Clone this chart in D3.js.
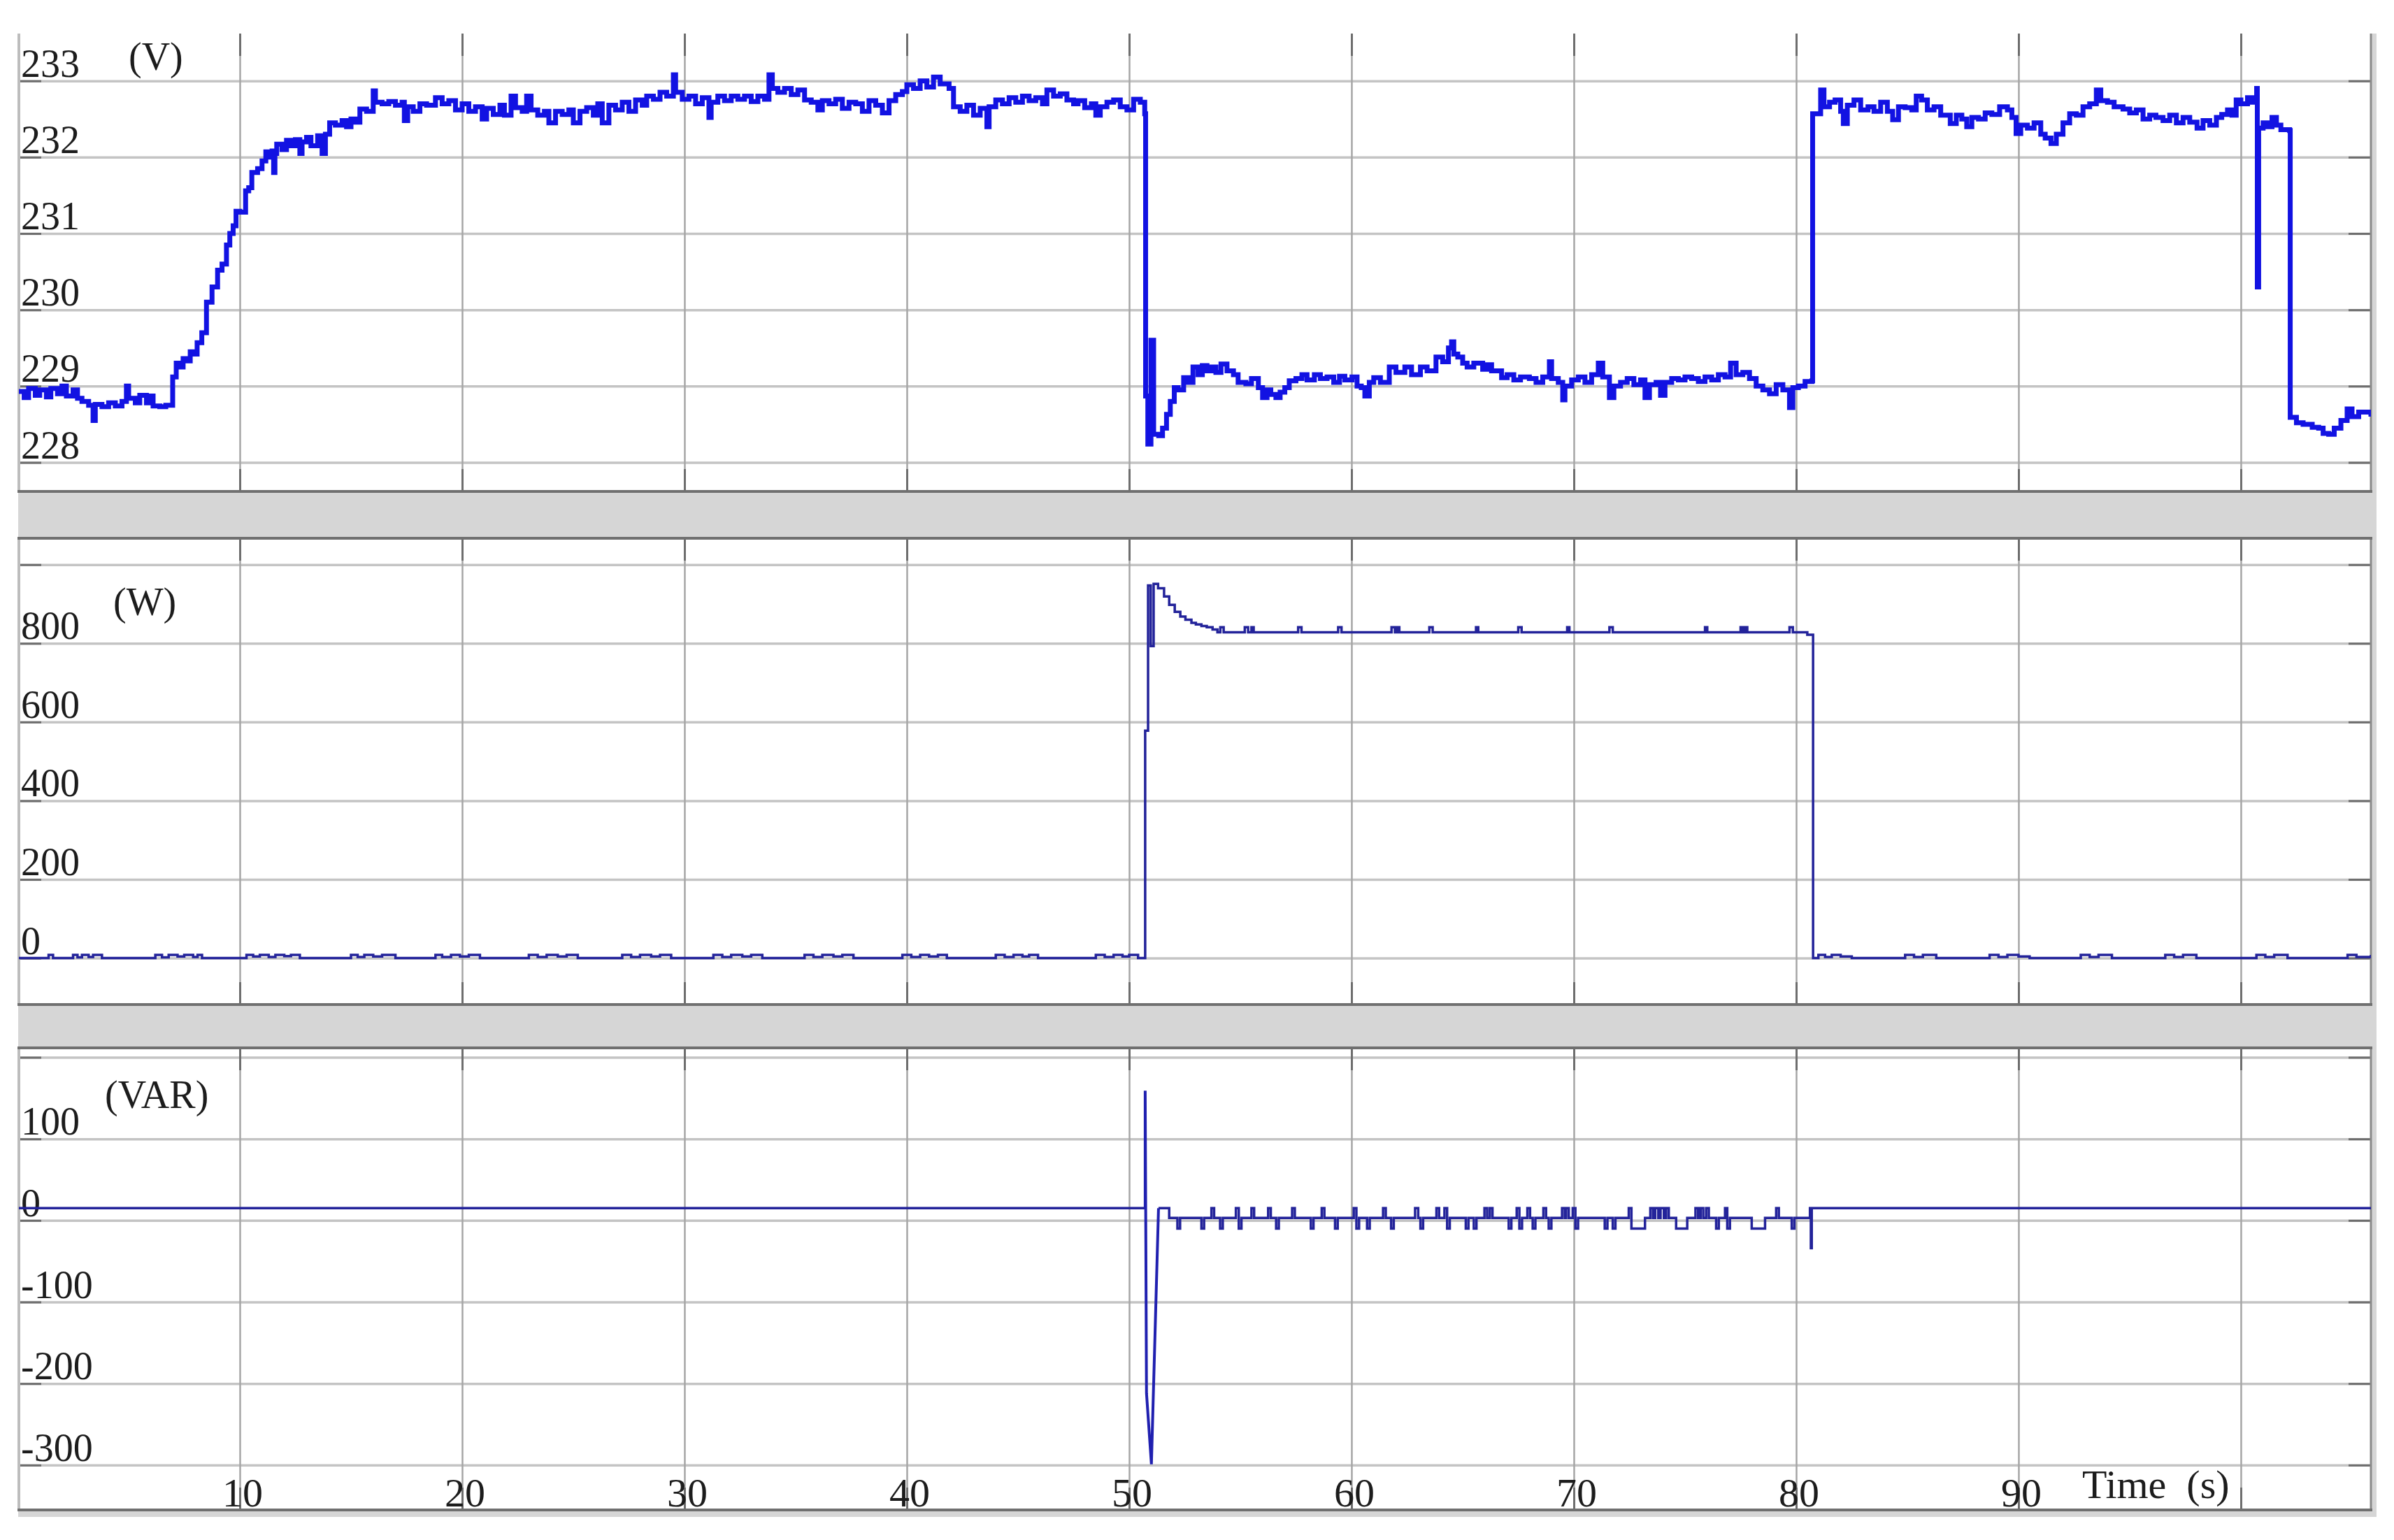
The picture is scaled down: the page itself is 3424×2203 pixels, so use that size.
<!DOCTYPE html>
<html>
<head>
<meta charset="utf-8">
<script src="https://cdn.jsdelivr.net/npm/d3@7"></script>
<style>
body { margin: 0; background: #ffffff; }
svg { display: block; }
text { font-family: "Liberation Serif", "Times New Roman", serif; fill: #1c1c1c; }
</style>
</head>
<body>
<svg id="chart"></svg>
<script>
// ---- data ----
let timeTicks = [10, 20, 30, 40, 50, 60, 70, 80, 90];
let timeGrid = [10, 20, 30, 40, 50, 60, 70, 80, 90, 100];

let voltTicks = [228, 229, 230, 231, 232, 233];
let powerTicks = [0, 200, 400, 600, 800];
let powerGrid = [0, 200, 400, 600, 800, 1000];
let reactiveTicks = [-300, -200, -100, 0, 100];
let reactiveGrid = [-300, -200, -100, 0, 100, 200];

// grid voltage (V), [time s, value]
let voltage = [
  [0,228.93],[0.3,228.85],[0.5,228.97],[0.8,228.88],[1.0,228.95],[1.3,228.86],[1.5,228.97],[1.8,228.9],
  [2.0,229.0],[2.2,228.87],[2.5,228.95],[2.7,228.84],[2.9,228.8],[3.2,228.75],[3.4,228.55],[3.5,228.76],
  [3.8,228.73],[4.1,228.78],[4.4,228.74],[4.7,228.8],[4.9,229.0],[5.0,228.84],[5.3,228.78],[5.5,228.88],
  [5.8,228.78],[6.0,228.87],[6.1,228.74],[6.4,228.73],[6.67,228.75],[6.98,229.12],[7.14,229.3],[7.3,229.25],
  [7.45,229.36],[7.6,229.33],[7.77,229.45],[7.9,229.42],[8.08,229.57],[8.29,229.7],[8.5,230.1],[8.75,230.3],
  [9.0,230.52],[9.2,230.6],[9.4,230.85],[9.55,231.0],[9.7,231.1],[9.83,231.29],[10.0,231.28],[10.26,231.56],
  [10.4,231.6],[10.54,231.8],[10.8,231.85],[11.0,231.95],[11.17,232.07],[11.3,232.0],[11.45,232.08],[11.52,231.8],
  [11.58,232.05],[11.66,232.17],[11.9,232.1],[12.1,232.22],[12.3,232.15],[12.5,232.23],[12.7,232.05],[12.8,232.2],
  [13.0,232.26],[13.2,232.15],[13.5,232.28],[13.7,232.05],[13.85,232.3],[14.04,232.45],[14.3,232.42],[14.6,232.48],
  [14.8,232.4],[15.0,232.5],[15.2,232.46],[15.4,232.63],[15.7,232.6],[16.0,232.87],[16.1,232.72],[16.4,232.7],
  [16.7,232.73],[17.0,232.68],[17.3,232.72],[17.4,232.48],[17.55,232.66],[17.8,232.6],[18.1,232.7],[18.4,232.68],
  [18.8,232.78],[19.1,232.7],[19.4,232.74],[19.7,232.62],[20.0,232.7],[20.3,232.6],[20.6,232.66],[20.9,232.5],
  [21.1,232.64],[21.4,232.56],[21.7,232.68],[21.9,232.55],[22.2,232.8],[22.4,232.65],[22.7,232.6],[22.9,232.8],
  [23.1,232.62],[23.4,232.55],[23.7,232.6],[23.9,232.45],[24.2,232.6],[24.5,232.56],[24.8,232.62],[25.0,232.45],
  [25.3,232.6],[25.6,232.65],[25.9,232.55],[26.1,232.7],[26.3,232.45],[26.6,232.68],[26.9,232.62],[27.2,232.72],
  [27.5,232.6],[27.8,232.75],[28.1,232.68],[28.3,232.8],[28.6,232.76],[28.9,232.85],[29.2,232.8],[29.5,233.08],
  [29.6,232.85],[29.9,232.76],[30.2,232.8],[30.5,232.7],[30.8,232.78],[31.1,232.52],[31.2,232.72],[31.5,232.8],
  [31.8,232.74],[32.1,232.8],[32.4,232.76],[32.7,232.8],[33.0,232.73],[33.3,232.8],[33.6,232.76],[33.8,233.08],
  [33.95,232.9],[34.2,232.85],[34.5,232.9],[34.8,232.82],[35.1,232.88],[35.4,232.75],[35.7,232.72],[36.0,232.62],
  [36.2,232.74],[36.5,232.7],[36.8,232.76],[37.1,232.64],[37.4,232.72],[37.7,232.7],[38.0,232.6],[38.3,232.74],
  [38.6,232.68],[38.9,232.58],[39.2,232.74],[39.5,232.82],[39.8,232.86],[40.0,232.95],[40.3,232.9],[40.6,233.0],
  [40.9,232.92],[41.2,233.05],[41.5,232.96],[41.9,232.9],[42.1,232.66],[42.4,232.6],[42.7,232.68],[43.0,232.55],
  [43.3,232.64],[43.6,232.4],[43.7,232.66],[44.0,232.75],[44.3,232.7],[44.6,232.78],[44.9,232.72],[45.2,232.8],
  [45.5,232.74],[45.8,232.78],[46.1,232.7],[46.3,232.88],[46.6,232.8],[46.9,232.83],[47.2,232.75],[47.5,232.7],
  [47.7,232.74],[48.0,232.65],[48.3,232.7],[48.5,232.55],[48.7,232.66],[49.0,232.72],[49.3,232.75],[49.6,232.66],
  [49.9,232.62],[50.2,232.76],[50.5,232.72],[50.7,232.57],[50.74,228.87],[50.84,228.24],[50.98,229.6],[51.1,228.37],
  [51.33,228.35],[51.5,228.45],[51.68,228.63],[51.85,228.8],[52.03,228.98],[52.2,228.95],[52.45,229.11],[52.65,229.05],
  [52.87,229.25],[53.1,229.15],[53.29,229.27],[53.5,229.2],[53.71,229.25],[53.9,229.18],[54.13,229.29],[54.4,229.2],
  [54.69,229.15],[54.9,229.05],[55.25,229.03],[55.5,229.1],[55.81,228.98],[56.0,228.85],[56.2,228.95],[56.37,228.89],
  [56.6,228.85],[56.79,228.92],[57.0,228.98],[57.2,229.07],[57.5,229.1],[57.77,229.15],[58.0,229.08],[58.33,229.15],
  [58.6,229.1],[58.9,229.12],[59.2,229.05],[59.46,229.13],[59.7,229.08],[60.02,229.12],[60.25,229.0],[60.44,228.98],
  [60.6,228.87],[60.8,229.05],[61.0,229.11],[61.3,229.05],[61.7,229.25],[62.0,229.18],[62.4,229.25],[62.7,229.15],
  [63.1,229.25],[63.4,229.2],[63.8,229.38],[64.1,229.32],[64.36,229.5],[64.5,229.58],[64.6,229.42],[64.78,229.38],
  [65.0,229.3],[65.2,229.25],[65.5,229.3],[65.9,229.22],[66.1,229.28],[66.3,229.2],[66.75,229.11],[67.0,229.15],
  [67.3,229.08],[67.6,229.12],[68.0,229.1],[68.3,229.05],[68.6,229.12],[68.9,229.32],[69.0,229.1],[69.3,229.05],
  [69.5,228.82],[69.6,229.0],[69.9,229.08],[70.2,229.12],[70.5,229.05],[70.8,229.15],[71.1,229.3],[71.3,229.12],
  [71.6,228.85],[71.8,229.0],[72.1,229.05],[72.4,229.1],[72.7,229.02],[73.0,229.08],[73.2,228.85],[73.4,229.02],
  [73.7,229.05],[73.9,228.88],[74.1,229.05],[74.4,229.1],[74.7,229.08],[75.0,229.12],[75.3,229.1],[75.6,229.06],
  [75.9,229.12],[76.2,229.08],[76.5,229.15],[76.8,229.12],[77.05,229.3],[77.3,229.15],[77.6,229.18],[77.9,229.1],
  [78.2,229.0],[78.5,228.95],[78.8,228.9],[79.1,229.02],[79.4,228.95],[79.7,228.72],[79.85,228.98],[80.1,229.0],
  [80.4,229.06],[80.71,229.07],[80.74,232.57],[81.1,232.88],[81.25,232.66],[81.5,232.72],[81.75,232.75],[82.0,232.6],
  [82.12,232.44],[82.3,232.68],[82.6,232.75],[82.9,232.62],[83.23,232.66],[83.5,232.6],[83.8,232.72],[84.1,232.6],
  [84.34,232.49],[84.6,232.66],[84.9,232.65],[85.2,232.62],[85.4,232.8],[85.64,232.75],[85.9,232.62],[86.2,232.66],
  [86.5,232.55],[86.93,232.44],[87.2,232.55],[87.45,232.5],[87.67,232.4],[87.9,232.52],[88.2,232.5],[88.5,232.58],
  [88.8,232.56],[89.15,232.66],[89.5,232.62],[89.7,232.52],[89.89,232.31],[90.1,232.42],[90.4,232.38],[90.7,232.45],
  [91.0,232.3],[91.2,232.25],[91.46,232.18],[91.7,232.3],[92.0,232.45],[92.3,232.57],[92.6,232.55],[92.9,232.66],
  [93.2,232.7],[93.5,232.88],[93.7,232.74],[94.0,232.72],[94.3,232.66],[94.7,232.63],[95.0,232.58],[95.3,232.62],
  [95.6,232.5],[95.9,232.55],[96.18,232.52],[96.5,232.48],[96.8,232.55],[97.1,232.45],[97.4,232.52],[97.7,232.46],
  [98.03,232.38],[98.3,232.48],[98.6,232.42],[98.9,232.52],[99.14,232.56],[99.4,232.62],[99.6,232.55],[99.79,232.75],
  [100.0,232.7],[100.3,232.78],[100.5,232.72],[100.71,232.9],[100.74,230.3],[100.8,232.38],[101.0,232.45],[101.2,232.4],
  [101.4,232.52],[101.6,232.42],[101.8,232.36],[102.19,232.35],[102.22,228.59],[102.5,228.52],[102.8,228.5],[103.21,228.46],
  [103.5,228.45],[103.7,228.38],[103.95,228.37],[104.2,228.45],[104.5,228.55],[104.78,228.7],[105.0,228.6],[105.3,228.66],
  [105.85,228.6]
];

// active power (W)
let activePower = [
  [0,0],[1.4,8],[1.6,0],[2.5,8],[2.7,2],[2.9,8],[3.2,3],[3.4,8],[3.8,0],
  [6.2,8],[6.5,2],[6.8,8],[7.2,4],[7.5,8],[7.9,3],[8.1,8],[8.3,0],
  [10.3,8],[10.6,4],[10.9,8],[11.3,3],[11.6,8],[12.0,5],[12.3,8],[12.7,0],
  [15.0,8],[15.3,3],[15.6,8],[16.0,4],[16.4,8],[17.0,0],
  [18.8,8],[19.1,3],[19.5,8],[19.9,4],[20.3,8],[20.8,0],
  [23.0,8],[23.4,3],[23.8,8],[24.3,4],[24.7,8],[25.2,0],
  [27.2,8],[27.6,3],[28.0,8],[28.5,4],[28.9,8],[29.4,0],
  [31.3,8],[31.7,3],[32.1,8],[32.6,4],[33.0,8],[33.5,0],
  [35.4,8],[35.8,3],[36.2,8],[36.7,4],[37.1,8],[37.6,0],
  [39.8,8],[40.2,3],[40.6,8],[41.0,4],[41.4,8],[41.8,0],
  [44.0,8],[44.4,3],[44.8,8],[45.2,4],[45.5,8],[45.9,0],
  [48.5,8],[48.9,3],[49.3,8],[49.7,4],[50.0,8],[50.4,0],
  [50.72,578],[50.85,947],[50.97,793],[51.1,951],[51.3,940],[51.57,919],[51.8,898],[52.05,880],
  [52.3,868],[52.53,860],[52.8,852],[53.0,848],[53.25,844],[53.49,841],[53.75,835],[53.97,828],
  [54.1,841],[54.25,828],[55.2,841],[55.35,828],[55.5,841],[55.6,828],[57.6,841],[57.75,828],
  [59.4,841],[59.55,828],[61.8,841],[61.95,828],[62.05,841],[62.15,828],[63.5,841],[63.65,828],
  [65.6,841],[65.7,828],[67.5,841],[67.65,828],[69.7,841],[69.8,828],[71.6,841],[71.75,828],
  [75.9,841],[76.0,828],[77.5,841],[77.6,828],[77.7,841],[77.8,828],[79.7,841],[79.85,828],
  [80.5,822],[80.76,0],
  [81.0,8],[81.3,3],[81.6,8],[82.0,4],[82.5,0],[84.9,8],[85.3,3],[85.7,8],[86.3,0],
  [88.7,8],[89.1,3],[89.5,8],[90.0,4],[90.5,0],[92.8,8],[93.2,3],[93.6,8],[94.2,0],
  [96.6,8],[97.0,3],[97.4,8],[98.0,0],[100.7,8],[101.1,3],[101.5,8],[102.1,0],
  [104.8,8],[105.2,3],[105.85,8]
];

// reactive power (VAR); null marks the switching transient drawn below
let reactivePower = [
  [0,15],[50.72,15],[50.72,null],
  [51.32,15],[51.8,3],[52.17,-10],[52.29,3],[53.25,-10],[53.37,3],[53.7,15],[53.82,3],[54.09,-10],[54.21,3],
  [54.8,15],[54.93,-10],[55.05,3],[55.5,15],[55.62,3],[56.25,15],[56.37,3],[56.61,-10],[56.73,3],[57.33,15],
  [57.45,3],[58.17,-10],[58.29,3],[58.66,15],[58.78,3],[59.26,-10],[59.38,3],[60.1,15],[60.22,-10],[60.34,3],
  [60.7,-10],[60.82,3],[61.42,15],[61.54,3],[61.78,-10],[61.9,3],[62.86,15],[63.0,3],[63.1,-10],[63.22,3],
  [63.82,15],[63.94,3],[64.18,15],[64.3,-10],[64.42,3],[65.14,-10],[65.26,3],[65.5,-10],[65.62,3],[65.98,15],
  [66.1,3],[66.22,15],[66.34,3],[67.07,-10],[67.19,3],[67.43,15],[67.55,-10],[67.67,3],[67.91,15],[68.03,3],
  [68.15,-10],[68.27,3],[68.63,15],[68.75,3],[68.87,-10],[68.99,3],[69.47,15],[69.59,3],[69.65,15],[69.77,3],
  [69.95,15],[70.07,-10],[70.19,3],[71.39,-10],[71.51,3],[71.75,-10],[71.87,3],[72.47,15],[72.59,-10],[73.2,3],
  [73.44,15],[73.56,3],[73.66,15],[73.8,3],[73.9,15],[74.05,3],[74.15,15],[74.27,3],[74.6,-10],[75.1,3],
  [75.47,15],[75.59,3],[75.7,15],[75.82,3],[75.95,15],[76.07,3],[76.4,-10],[76.52,3],[76.8,15],[76.9,-10],
  [77.02,3],[78.0,-10],[78.6,3],[79.1,15],[79.22,3],[79.8,-10],[79.92,3],[80.62,15],[80.66,-34],[80.7,15],
  [105.85,15]
];
let reactiveSpike = [[50.72,15],[50.72,159],[50.78,-212],[51.0,-299],[51.32,15]];

// ---- layout ----
let width = 3424;
let height = 2203;
let plotLeft = 27;
let plotRight = 3391;

let svg = d3.select("#chart")
    .attr("width", width)
    .attr("height", height);

let x = d3.scaleLinear().domain([0, 105.85]).range([25, plotRight]);

let panels = [
    {name: "volt", top: 48, bottom: 703, domain: [227.62, 233.62], grid: voltTicks, ticks: voltTicks,
     unit: "(V)", unitX: 184, unitY: 100, topBorder: false},
    {name: "power", top: 770, bottom: 1437, domain: [-118, 1067], grid: powerGrid, ticks: powerTicks,
     unit: "(W)", unitX: 162, unitY: 880, topBorder: true},
    {name: "reactive", top: 1499, bottom: 2160, domain: [-355, 211.6], grid: reactiveGrid, ticks: reactiveTicks,
     unit: "(VAR)", unitX: 150, unitY: 1585, topBorder: true}
];
panels.forEach(p => {
    p.y = d3.scaleLinear().domain(p.domain).range([p.bottom, p.top]);
});

// grey scope frame behind the panels
svg.append("rect")
    .attr("x", 26).attr("y", 48)
    .attr("width", 3399 - 26).attr("height", 2170 - 48)
    .attr("fill", "#d6d6d6");

let defs = svg.append("defs");

panels.forEach(function(p) {
    let g = svg.append("g").attr("class", "panel-" + p.name);
    let h = p.bottom - p.top;

    g.append("rect")
        .attr("x", plotLeft).attr("y", p.top)
        .attr("width", plotRight - plotLeft).attr("height", h)
        .attr("fill", "#ffffff");

    // horizontal grid
    g.append("g")
        .attr("transform", `translate(${plotLeft},0)`)
        .call(d3.axisRight(p.y).tickValues(p.grid).tickSize(plotRight - plotLeft).tickFormat(""))
        .call(a => a.select(".domain").remove())
        .selectAll("line").attr("stroke", "#c4c4c4").attr("stroke-width", 3.5);

    // vertical grid
    g.append("g")
        .attr("transform", `translate(0,${p.top})`)
        .call(d3.axisBottom(x).tickValues(timeGrid).tickSize(h).tickFormat(""))
        .call(a => a.select(".domain").remove())
        .selectAll("line").attr("stroke", "#a6a6a6").attr("stroke-width", 2.5);

    // short inward ticks on every side
    let tickLen = 32;
    g.append("g").attr("transform", `translate(${plotLeft},0)`)
        .call(d3.axisRight(p.y).tickValues(p.grid).tickSize(tickLen).tickFormat(""));
    g.append("g").attr("transform", `translate(${plotRight},0)`)
        .call(d3.axisLeft(p.y).tickValues(p.grid).tickSize(tickLen).tickFormat(""));
    g.append("g").attr("transform", `translate(0,${p.top})`)
        .call(d3.axisBottom(x).tickValues(timeGrid).tickSize(tickLen).tickFormat(""));
    g.append("g").attr("transform", `translate(0,${p.bottom})`)
        .call(d3.axisTop(x).tickValues(timeGrid).tickSize(tickLen).tickFormat(""));
    g.selectAll(".domain").remove();
    g.selectAll("g.tick line").filter(function() { return d3.select(this).attr("stroke") === "currentColor"; })
        .attr("stroke", "#6e6e6e").attr("stroke-width", 3);

    // frame lines
    g.append("line").attr("x1", plotLeft).attr("x2", plotLeft).attr("y1", p.top).attr("y2", p.bottom)
        .attr("stroke", "#bdbdbd").attr("stroke-width", 4);
    g.append("line").attr("x1", plotRight).attr("x2", plotRight).attr("y1", p.top).attr("y2", p.bottom)
        .attr("stroke", "#8a8a8a").attr("stroke-width", 3);
    g.append("line").attr("x1", plotLeft - 2).attr("x2", plotRight + 2).attr("y1", p.bottom).attr("y2", p.bottom)
        .attr("stroke", "#707070").attr("stroke-width", 4);
    if (p.topBorder) {
        g.append("line").attr("x1", plotLeft - 2).attr("x2", plotRight + 2).attr("y1", p.top).attr("y2", p.top)
            .attr("stroke", "#707070").attr("stroke-width", 4);
    }

    // value labels just above their grid line
    g.selectAll("text.ylab")
        .data(p.ticks)
        .enter().append("text")
        .attr("class", "ylab")
        .attr("x", 30)
        .attr("y", d => p.y(d) - 6)
        .style("font-size", "56px")
        .text(d => d);

    g.append("text")
        .attr("x", p.unitX).attr("y", p.unitY)
        .style("font-size", "56px")
        .text(p.unit);

    defs.append("clipPath").attr("id", "clip-" + p.name)
        .append("rect")
        .attr("x", plotLeft).attr("y", p.top)
        .attr("width", plotRight - plotLeft).attr("height", h);
});

let stepLine = (y) => d3.line()
    .defined(d => d[1] !== null)
    .x(d => x(d[0]))
    .y(d => y(d[1]))
    .curve(d3.curveStepAfter);

svg.append("path")
    .datum(voltage)
    .attr("clip-path", "url(#clip-volt)")
    .attr("fill", "none")
    .attr("stroke", "#1212e2")
    .attr("stroke-width", 7)
    .attr("stroke-linejoin", "miter")
    .attr("d", stepLine(panels[0].y));

svg.append("path")
    .datum(activePower)
    .attr("clip-path", "url(#clip-power)")
    .attr("fill", "none")
    .attr("stroke", "#23239a")
    .attr("stroke-width", 3.5)
    .attr("d", stepLine(panels[1].y));

svg.append("path")
    .datum(reactivePower)
    .attr("clip-path", "url(#clip-reactive)")
    .attr("fill", "none")
    .attr("stroke", "#23239a")
    .attr("stroke-width", 3.5)
    .attr("d", stepLine(panels[2].y));

svg.append("path")
    .datum(reactiveSpike)
    .attr("clip-path", "url(#clip-reactive)")
    .attr("fill", "none")
    .attr("stroke", "#2020b0")
    .attr("stroke-width", 4)
    .attr("d", d3.line().x(d => x(d[0])).y(d => panels[2].y(d[1])));

// time labels along the bottom panel
svg.selectAll("text.xlab")
    .data(timeTicks)
    .enter().append("text")
    .attr("class", "xlab")
    .attr("x", d => x(d) + 4)
    .attr("y", 2155)
    .attr("text-anchor", "middle")
    .style("font-size", "58px")
    .text(d => d);

svg.append("text")
    .attr("x", 2978)
    .attr("y", 2143)
    .attr("xml:space", "preserve")
    .style("white-space", "pre")
    .style("font-size", "58px")
    .text("Time  (s)");
</script>
</body>
</html>
